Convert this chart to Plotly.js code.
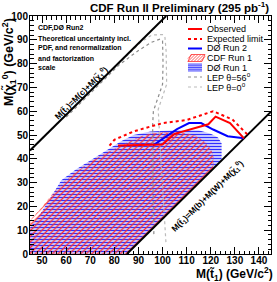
<!DOCTYPE html>
<html><head><meta charset="utf-8">
<script src="https://cdn.plot.ly/plotly-3.0.1.min.js"></script>
<style>html,body{margin:0;padding:0;background:#fff}#chart{width:277px;height:282px}</style>
</head><body><div id="chart"></div>
<script>
// ---- data (GeV/c^2) ----
const d0run1_x = [45,45,50,55,58,64,71,78,83,88,95,105,115,120,123,124.5,124.5,85.2,45];
const d0run1_y = [0,11,18,26,31,35.5,40,44.5,47.5,50,51.5,52,52,50.5,49,46.5,39.5,0,0];
const cdfrun1_x = [45,45,50,55,60,65,70,75,80,85,90,95,100,105,110,114,117,120,121,121,85.2,45];
const cdfrun1_y = [0,14,19.5,26,31,35,38.5,41.5,44,46.5,49,50.5,51,51,50.5,49.5,47.5,44,41,36,0,0];
const obs_x = [81.5,100,105,119,122,128,133.8];
const obs_y = [45.6,46,50.5,54.5,57.7,55,48.6];
const exp_x = [78,80,88,100,110,121,129,135.2];
const exp_y = [45.5,48,51.5,55,56.3,60,56.5,50.2];
const d0run2_x = [96,101,106,111,116,121,127,133.8];
const d0run2_y = [45.6,49,52.5,55,55,52.3,49.5,48.6];
const lep56_x = [60,82,90,95.5,99,100,100.2,100,96.2,95.9,96,96.4];
const lep56_y = [57.5,79.5,85.5,89,90.3,89.6,80,71.3,60,54.4,30,8];
const lep0_x = [60,82,91,95.5,100.3,101,101.5,101.7,98.2,99.3,101.4];
const lep0_y = [58.2,80.2,89,92,92.2,91,85,71.3,60.8,40,5];
const kinC_x = [45,101.5];   // M(t)=M(c)+M(chi)
const kinC_y = [43.5,100];
const kinB_x = [85.2,145];   // M(t)=M(b)+M(W)+M(chi)
const kinB_y = [0,59.8];
const xTicks = [50,60,70,80,90,100,110,120,130,140];
const yTicks = [0,10,20,30,40,50,60,70,80,90,100];

// ---- layout helpers (pixel -> paper) ----
const L=30,R=271,T=16,B=254;
const PX = p => (p-L)/(R-L);
const PY = p => (B-p)/(B-T);

const traces = [
  {x:d0run1_x,y:d0run1_y,mode:'lines',fill:'toself',line:{width:0,color:'rgba(0,0,255,0)'},
   fillpattern:{shape:'-',fgcolor:'#3030ff',bgcolor:'rgba(170,170,255,0.5)',size:3,solidity:0.4},hoverinfo:'skip'},
  {x:cdfrun1_x,y:cdfrun1_y,mode:'lines',fill:'toself',line:{width:0.7,color:'rgba(255,60,60,0.7)',dash:'dot'},
   fillpattern:{shape:'/',fgcolor:'#ff2a2a',bgcolor:'rgba(0,0,0,0)',size:4,solidity:0.3},hoverinfo:'skip'},
  {x:lep56_x,y:lep56_y,mode:'lines',line:{color:'#8c8c8c',width:1.2,dash:'dot'}},
  {x:lep0_x,y:lep0_y,mode:'lines',line:{color:'#bbbbbb',width:1.2,dash:'dot'}},
  {x:kinC_x,y:kinC_y,mode:'lines',line:{color:'#000',width:2}},
  {x:kinB_x,y:kinB_y,mode:'lines',line:{color:'#000',width:2}},
  {x:exp_x,y:exp_y,mode:'lines',line:{color:'#ff0000',width:2,dash:'dot'}},
  {x:d0run2_x,y:d0run2_y,mode:'lines',line:{color:'#0000ff',width:2}},
  {x:obs_x,y:obs_y,mode:'lines',line:{color:'#ff0000',width:2}}
];

const F = 'Liberation Sans, Arial, Helvetica, sans-serif';
const ann = [];
function txt(text,px,py,opt){
  ann.push(Object.assign({text:text,x:PX(px),y:PY(py),xref:'paper',yref:'paper',showarrow:false,
    xanchor:'left',yanchor:'middle',font:{family:F,size:9,color:'#000'}},opt||{}));
}
// title
txt('CDF Run II Preliminary (295 pb<sup>-1</sup>)',271,7,{xanchor:'right',font:{family:F,size:11.5,weight:'bold',color:'#000'}});
// axis titles
txt('M(t\u0303<sub>1</sub>) (GeV/c<sup>2</sup>)',275,274,{xanchor:'right',font:{family:F,size:12,weight:'bold',color:'#000'}});
txt('M(\u03c7\u0303<sub>1</sub><sup>0</sup>) (GeV/c<sup>2</sup>)',9,62,{xanchor:'center',textangle:-90,font:{family:F,size:12.5,weight:'bold',color:'#000'}});
// info text
const info = ['CDF,D\u00d8 Run2','Theoretical uncertainty incl.','PDF, and renormalization','and factorization','scale'];
const infoY = [28,39,48.5,58,67];
info.forEach((s,i)=>txt(s,36,infoY[i],{font:{family:F,size:7,weight:'bold',color:'#000'}}));
// kinematic labels
txt('M(t\u0303<sub>1</sub>)=M(c)+M(\u03c7\u0303<sub>1</sub><sup>0</sup>)',81.5,93,{xanchor:'center',textangle:-44.5,font:{family:F,size:8.5,weight:'bold',color:'#000'}});
txt('M(t\u0303<sub>1</sub>)=M(b)+M(W)+M(\u03c7\u0303<sub>1</sub><sup>0</sup>)',207.5,196,{xanchor:'center',textangle:-44.5,font:{family:F,size:8.5,weight:'bold',color:'#000'}});

// manual legend
const legX0=188, legX1=202, legTx=205;
const leg = [
  {t:'Observed',y:29,kind:'line',c:'#ff0000',d:'solid',w:2},
  {t:'Expected limit',y:39,kind:'line',c:'#ff0000',d:'dot',w:2},
  {t:'D\u00d8 Run 2',y:48.5,kind:'line',c:'#0000ff',d:'solid',w:2},
  {t:'CDF Run 1',y:58,kind:'cdf'},
  {t:'D\u00d8 Run 1',y:67.5,kind:'d0'},
  {t:'LEP \u03b8=56<sup>o</sup>',y:77,kind:'line',c:'#8c8c8c',d:'dot',w:1.2},
  {t:'LEP \u03b8=0<sup>o</sup>',y:87,kind:'line',c:'#bbbbbb',d:'dot',w:1.2}
];
const shapes=[];
leg.forEach(e=>{
  txt(e.t,legTx,e.y,{font:{family:F,size:9,color:'#000'}});
  if(e.kind==='line'){
    shapes.push({type:'line',xref:'paper',yref:'paper',x0:PX(legX0),x1:PX(legX1),y0:PY(e.y),y1:PY(e.y),
      line:{color:e.c,width:e.w,dash:e.d}});
  } else if(e.kind==='cdf'){
    const y0=e.y+3.5,y1=e.y-3.5,h=7;
    let p=`M${PX(legX0)},${PY(y0)} L${PX(legX1)},${PY(y0)} L${PX(legX1+3)},${PY(y1)} L${PX(legX0+3)},${PY(y1)} Z`;
    for(let x=legX0-3;x<legX1;x+=3){
      const xa=Math.max(x,legX0), ya=y0-(xa-x);
      const xb=Math.min(x+h,legX1+3), yb=y0-(xb-x);
      p+=` M${PX(xa)},${PY(ya)} L${PX(xb)},${PY(yb)}`;
    }
    shapes.push({type:'path',xref:'paper',yref:'paper',path:p,line:{color:'#ff3030',width:0.8}});
  } else {
    const y0=e.y+3.5,y1=e.y-3.5;
    shapes.push({type:'rect',xref:'paper',yref:'paper',x0:PX(legX0),x1:PX(legX1),y0:PY(y0),y1:PY(y1),
      fillcolor:'rgba(170,170,255,0.6)',line:{width:0}});
    let p='';
    for(let y=y1;y<=y0+0.01;y+=1.75){ p+=` M${PX(legX0)},${PY(y)} L${PX(legX1)},${PY(y)}`; }
    shapes.push({type:'path',xref:'paper',yref:'paper',path:p.trim(),line:{color:'#3030ff',width:0.8}});
  }
});

const axBase = {showgrid:false,zeroline:false,showline:true,linecolor:'#000',linewidth:1,mirror:'ticks',
  ticks:'inside',ticklen:7,tickwidth:1,tickcolor:'#000',
  tickfont:{family:F,size:10,weight:'bold',color:'#000'},
  minor:{ticks:'inside',ticklen:3.5,dtick:2,tickcolor:'#000',tickwidth:1,showgrid:false}};

const layout = {
  width:277,height:282,margin:{l:L,r:277-R,t:T,b:282-B},
  paper_bgcolor:'#fff',plot_bgcolor:'#fff',showlegend:false,
  xaxis:Object.assign({},axBase,{range:[45,145],tickvals:xTicks,ticktext:xTicks.map(String),tickmode:'array',ticklabelstandoff:-3}),
  yaxis:Object.assign({},axBase,{range:[0,100],tickvals:yTicks,ticktext:yTicks.map(String),tickmode:'array',ticklabelstandoff:-1}),
  annotations:ann,shapes:shapes
};
layout.xaxis.minor = Object.assign({},axBase.minor,{tick0:46});
layout.yaxis.minor = Object.assign({},axBase.minor,{tick0:0});
Plotly.newPlot('chart',traces,layout,{staticPlot:true,displayModeBar:false});
</script></body></html>
